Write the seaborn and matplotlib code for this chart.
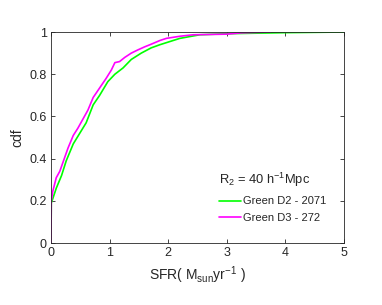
import numpy as np
import pandas as pd
import seaborn as sns
import matplotlib.pyplot as plt
from matplotlib.ticker import FuncFormatter

# cdf curves
sfr_d2 = [0.0, 0.005, 0.03, 0.09, 0.18, 0.26, 0.38, 0.49, 0.6, 0.72, 0.83, 0.97,
          1.09, 1.23, 1.37, 1.54, 1.71, 1.86, 2.2, 2.54, 3.0, 4.0, 5.0]
cdf_d2 = [0.0, 0.19, 0.21, 0.26, 0.32, 0.39, 0.47, 0.52, 0.57, 0.655, 0.70, 0.765,
          0.80, 0.83, 0.87, 0.90, 0.925, 0.94, 0.97, 0.987, 0.992, 0.997, 1.0]

sfr_d3 = [0.0, 0.005, 0.03, 0.09, 0.15, 0.22, 0.29, 0.38, 0.46, 0.55, 0.63, 0.72,
          0.83, 0.94, 1.03, 1.09, 1.17, 1.26, 1.37, 1.48, 1.6, 1.69, 1.86, 1.97,
          2.2, 2.43, 3.0, 3.24, 3.74]
cdf_d3 = [0.0, 0.20, 0.245, 0.31, 0.34, 0.395, 0.45, 0.51, 0.545, 0.59, 0.63, 0.69,
          0.735, 0.78, 0.82, 0.855, 0.86, 0.88, 0.90, 0.915, 0.93, 0.94, 0.96, 0.97,
          0.98, 0.987, 0.99, 0.996, 1.0]

labels = ["Green D2 - 2071", "Green D3 - 272"]
colors = ["#00ff00", "#ff00ff"]

df = pd.concat([
    pd.DataFrame({"sfr": sfr_d2, "cdf": cdf_d2, "sample": labels[0]}),
    pd.DataFrame({"sfr": sfr_d3, "cdf": cdf_d3, "sample": labels[1]}),
])

sns.set_style("ticks")
plt.rcParams["font.family"] = ["Liberation Sans", "DejaVu Sans"]
plt.rcParams["mathtext.default"] = "regular"

fig = plt.figure(figsize=(3.82, 3.05), dpi=100)
ax = fig.add_axes([0.1335, 0.203, 0.767, 0.692])

sns.lineplot(data=df, x="sfr", y="cdf", hue="sample", palette=colors,
             sort=False, estimator=None, linewidth=1.2, ax=ax)

ax.set_xlim(0, 5)
ax.set_ylim(0, 1)
ax.set_xticks(range(6))
ax.set_yticks(np.arange(0, 1.01, 0.2))
ax.yaxis.set_major_formatter(FuncFormatter(lambda v, p: "%g" % round(v, 2)))
ax.tick_params(direction="in", top=True, right=True, length=3, width=0.6,
               colors="#262626", labelsize=9, pad=3)
for s in ax.spines.values():
    s.set_visible(True)
    s.set_linewidth(0.6)
    s.set_color("#262626")

ax.set_xlabel("SFR( M$_{sun}$yr$^{-1}$ )", fontsize=10, color="#262626")
ax.set_ylabel("cdf", fontsize=10, color="#262626", labelpad=4)

leg = ax.legend(title="R$_2$ = 40 h$^{-1}$Mpc", frameon=False, loc="lower right",
                bbox_to_anchor=(0.975, 0.05), fontsize=8, title_fontsize=9.3,
                handlelength=2.0, handletextpad=0.2, labelspacing=0.55)
leg._legend_box.align = "left"
leg._legend_box.sep = 5

fig.savefig("out.png", dpi=100)
